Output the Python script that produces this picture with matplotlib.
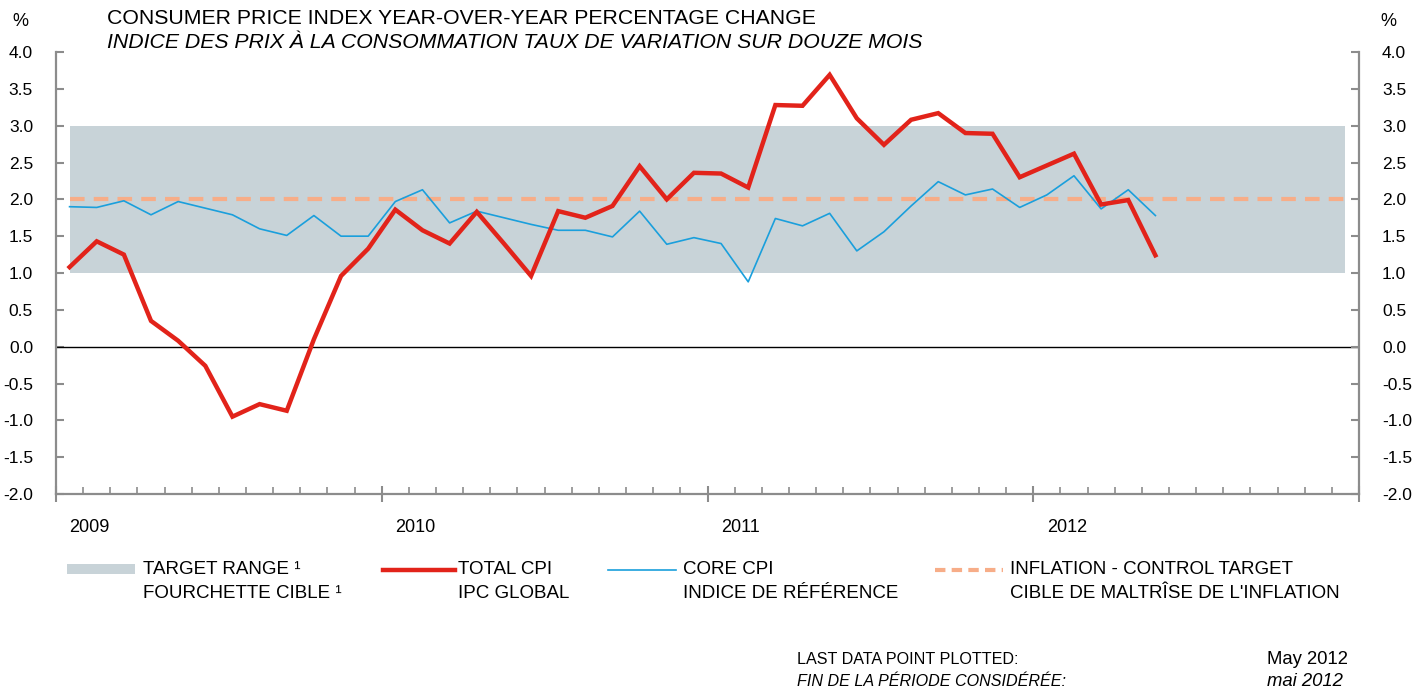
import matplotlib.pyplot as plt
from matplotlib.lines import Line2D
from matplotlib.patches import Rectangle

plt.rcParams['font.family'] = ['Liberation Sans', 'DejaVu Sans']

# Monthly data, Jan 2009 - May 2012
total_cpi = [1.08, 1.43, 1.25, 0.35, 0.08, -0.26, -0.95, -0.78, -0.87, 0.10, 0.96, 1.33,
             1.86, 1.58, 1.40, 1.83, 1.40, 0.96, 1.84, 1.75, 1.91, 2.45, 2.00, 2.36,
             2.35, 2.16, 3.28, 3.27, 3.69, 3.10, 2.74, 3.08, 3.17, 2.90, 2.89, 2.30,
             2.46, 2.62, 1.93, 1.99, 1.24]
core_cpi = [1.90, 1.89, 1.98, 1.79, 1.97, 1.88, 1.79, 1.60, 1.51, 1.78, 1.50, 1.50,
            1.97, 2.13, 1.68, 1.84, 1.75, 1.66, 1.58, 1.58, 1.49, 1.84, 1.39, 1.48,
            1.40, 0.88, 1.74, 1.64, 1.81, 1.30, 1.56, 1.91, 2.24, 2.06, 2.14, 1.89,
            2.06, 2.32, 1.87, 2.13, 1.78]
years = ['2009', '2010', '2011', '2012']
target_low, target_high = 1.0, 3.0
control_target = 2.0
n_months = 48

red = '#e2231a'
blue = '#1a9fdc'
shade = '#c8d3d8'
orange = '#f7ad88'
grey = '#8c8c8c'

fig = plt.figure(figsize=(14.25, 6.94), dpi=100)
ax = fig.add_axes([56 / 1425, 1 - 494 / 694, (1359 - 56) / 1425, (494 - 52) / 694])

x_total = [i + 0.5 for i in range(len(total_cpi))]
x_core = [i + 0.5 for i in range(len(core_cpi))]

# target range and control target span the full period
ax.fill_between([0.5, n_months - 0.5], target_low, target_high, color=shade, lw=0, zorder=1)
ax.plot([0.5, n_months - 0.5], [control_target] * 2, color=orange, lw=3,
        dashes=(3.5, 2.2), zorder=2)
ax.axhline(0, color='black', lw=1, zorder=2)
ax.plot(x_core, core_cpi, color=blue, lw=1.2, zorder=3)
ax.plot(x_total, total_cpi, color=red, lw=3.2, zorder=4, solid_joinstyle='miter')

ax.set_xlim(0, n_months)
ax.set_ylim(-2, 4)
ax.set_yticks([i * 0.5 for i in range(-4, 9)])
ax.set_yticklabels([f'{v:.1f}' for v in ax.get_yticks()])
ax.set_xticks(range(0, n_months + 1, 12))
ax.set_xticks(range(0, n_months + 1), minor=True)
ax.set_xticklabels([])

for side in ['left', 'right', 'bottom']:
    ax.spines[side].set_color(grey)
    ax.spines[side].set_linewidth(1.6)
ax.spines['top'].set_visible(False)

ax.tick_params(axis='y', direction='in', length=6, width=1.5, color=grey,
               labelsize=12.5, pad=16.5, right=True)
ax.tick_params(axis='x', which='major', direction='inout', length=12, width=1.5, color=grey)
ax.tick_params(axis='x', which='minor', direction='in', length=5, width=1.2, color=grey)

ax2 = ax.twinx()
ax2.set_ylim(ax.get_ylim())
ax2.set_yticks(ax.get_yticks())
ax2.set_yticklabels([f'{v:.1f}' for v in ax.get_yticks()])
ax2.tick_params(axis='y', direction='in', length=6, width=1.5, color=grey,
                labelsize=12.5, pad=16.5)
for s in ax2.spines.values():
    s.set_visible(False)

for k, yr in enumerate(years):
    ax.text(k * 12 + 0.5, -0.075, yr, transform=ax.get_xaxis_transform(),
            ha='left', va='center', fontsize=13)

# titles and unit markers
fig.text(107 / 1425, 1 - 18 / 694, 'CONSUMER PRICE INDEX YEAR-OVER-YEAR PERCENTAGE CHANGE',
         fontsize=15.3, va='center')
fig.text(107 / 1425, 1 - 42 / 694, 'INDICE DES PRIX À LA CONSOMMATION TAUX DE VARIATION SUR DOUZE MOIS',
         fontsize=15.3, va='center', style='italic')
fig.text(20 / 1425, 1 - 22 / 694, '%', fontsize=13, ha='center', va='center')
fig.text(1388 / 1425, 1 - 22 / 694, '%', fontsize=13, ha='center', va='center')

# legend
ly1, ly2 = 1 - 570 / 694, 1 - 593 / 694
fig.add_artist(Rectangle((67 / 1425, 1 - 574 / 694), 68 / 1425, 10 / 694,
                         transform=fig.transFigure, color=shade, lw=0))
fig.add_artist(Line2D([383 / 1425, 455 / 1425], [ly1, ly1], color=red, lw=3.2))
fig.add_artist(Line2D([608 / 1425, 676 / 1425], [ly1, ly1], color=blue, lw=1.2))
fig.add_artist(Line2D([935 / 1425, 1003 / 1425], [ly1, ly1], color=orange, lw=3,
                      dashes=(2.5, 1.5)))
legend_items = [(143, 'TARGET RANGE ¹', 'FOURCHETTE CIBLE ¹'),
                (458, 'TOTAL CPI', 'IPC GLOBAL'),
                (683, 'CORE CPI', 'INDICE DE RÉFÉRENCE'),
                (1010, 'INFLATION - CONTROL TARGET', "CIBLE DE MALTRÎSE DE L'INFLATION")]
for lx, en, fr in legend_items:
    fig.text(lx / 1425, ly1, en, fontsize=13.5, va='center')
    fig.text(lx / 1425, ly2, fr, fontsize=13.5, va='center')

# footnote
fig.text(797 / 1425, 1 - 659 / 694, 'LAST DATA POINT PLOTTED:', fontsize=11.6, va='center')
fig.text(797 / 1425, 1 - 682 / 694, 'FIN DE LA PÉRIODE CONSIDÉRÉE:', fontsize=11.6,
         va='center', style='italic')
fig.text(1348 / 1425, 1 - 659 / 694, 'May 2012', fontsize=13.3, va='center', ha='right')
fig.text(1343 / 1425, 1 - 682 / 694, 'mai 2012', fontsize=13.3, va='center', ha='right',
         style='italic')

fig.savefig('out.png', dpi=100)
